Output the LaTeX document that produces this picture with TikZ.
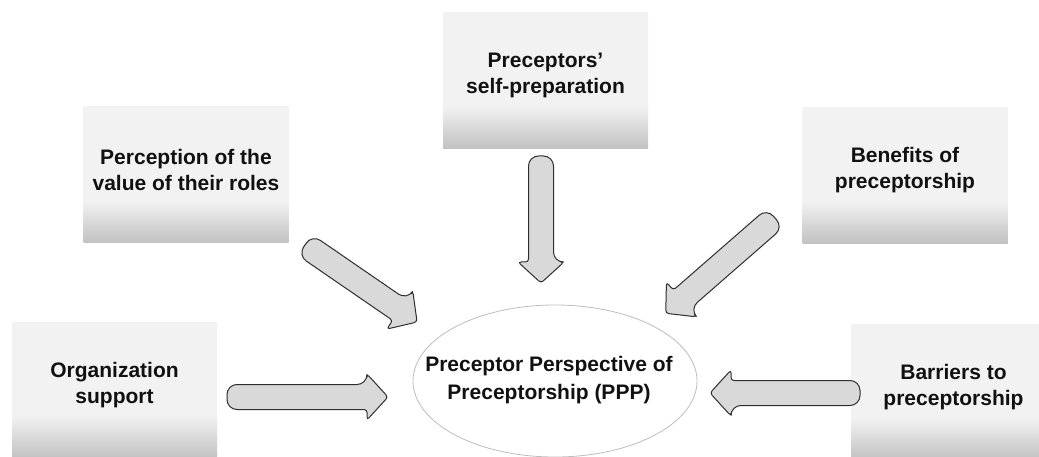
\documentclass[tikz,border=0pt]{standalone}
\usepackage{fontspec}
\setmainfont{Liberation Sans}
\usetikzlibrary{shapes.geometric}
\definecolor{arrfill}{HTML}{D9D9D9}
\definecolor{arrline}{HTML}{2E2E2E}
\definecolor{ellline}{HTML}{BDBDBD}
\definecolor{txt}{HTML}{111111}
\pgfdeclareverticalshading{boxshade}{100bp}{color(0bp)=(black!24); color(25bp)=(black!24); color(31bp)=(black!17); color(38bp)=(black!8); color(41bp)=(black!5); color(100bp)=(black!5)}
\tikzset{
  box/.style={shading=boxshade, minimum width=205pt, minimum height=136pt, inner sep=0pt},
  lbl/.style={font=\bfseries\fontsize{21}{26}\selectfont, align=center, text=txt},
  barrowstyle/.style={fill=arrfill, draw=arrline, line width=1pt, line join=round},
  pics/barrow/.style={code={
    \draw[barrowstyle, rounded corners=3pt] (#1-21,-12.5) -- (#1-21,-23) -- (#1,0) -- (#1-21,23) -- (#1-21,12.5) [rounded corners=10pt] -- (0,12.5) -- (0,-12.5) -- cycle;
  }}
}
\begin{document}
\begin{tikzpicture}[x=1pt,y=-1pt]
\useasboundingbox (0,0) rectangle (1039,457);
\clip (0,0) rectangle (1039,457);
\fill[white] (0,0) rectangle (1039,457);
% boxes
\node[box] (perc) at (186,175) {};
\node[lbl] (percT) at ([yshift=5pt]perc.center) {Perception of the\\value of their roles};
\node[box] (self) at (545.5,80.5) {};
\node[lbl] (selfT) at ([yshift=5pt]self.center) {Preceptors’\\self-preparation};
\node[box] (bene) at (905,175.5) {};
\node[lbl] (beneT) at ([yshift=5pt]bene.center) {Benefits of\\preceptorship};
\node[box] (org) at (114.5,390) {};
\node[lbl] (orgT) at ([yshift=5pt]org.center) {Organization\\support};
\node[box] (barr) at (953.5,392) {};
\node[lbl] (barrT) at ([yshift=5pt]barr.center) {Barriers to\\preceptorship};
% centre ellipse
\node[ellipse, draw=ellline, line width=0.8pt, minimum width=284pt, minimum height=152pt, inner sep=0pt, fill=white] (ppp) at (555,381) {};
\node[lbl, font=\bfseries\fontsize{21}{28}\selectfont] (pppT) at (549,380) {Preceptor Perspective of\\Preceptorship (PPP)};
% block arrows
\path (227,397) pic (a1) {barrow=161};
\path (860,393) pic[rotate=180] (a2) {barrow=150};
\path (541,156) pic[rotate=-90] (a3) {barrow=127};
\path (305,245) pic[rotate=-34.5] (a4) {barrow=136};
\path (775,218) pic[rotate=-138.9] (a5) {barrow=145};
\end{tikzpicture}
\end{document}
